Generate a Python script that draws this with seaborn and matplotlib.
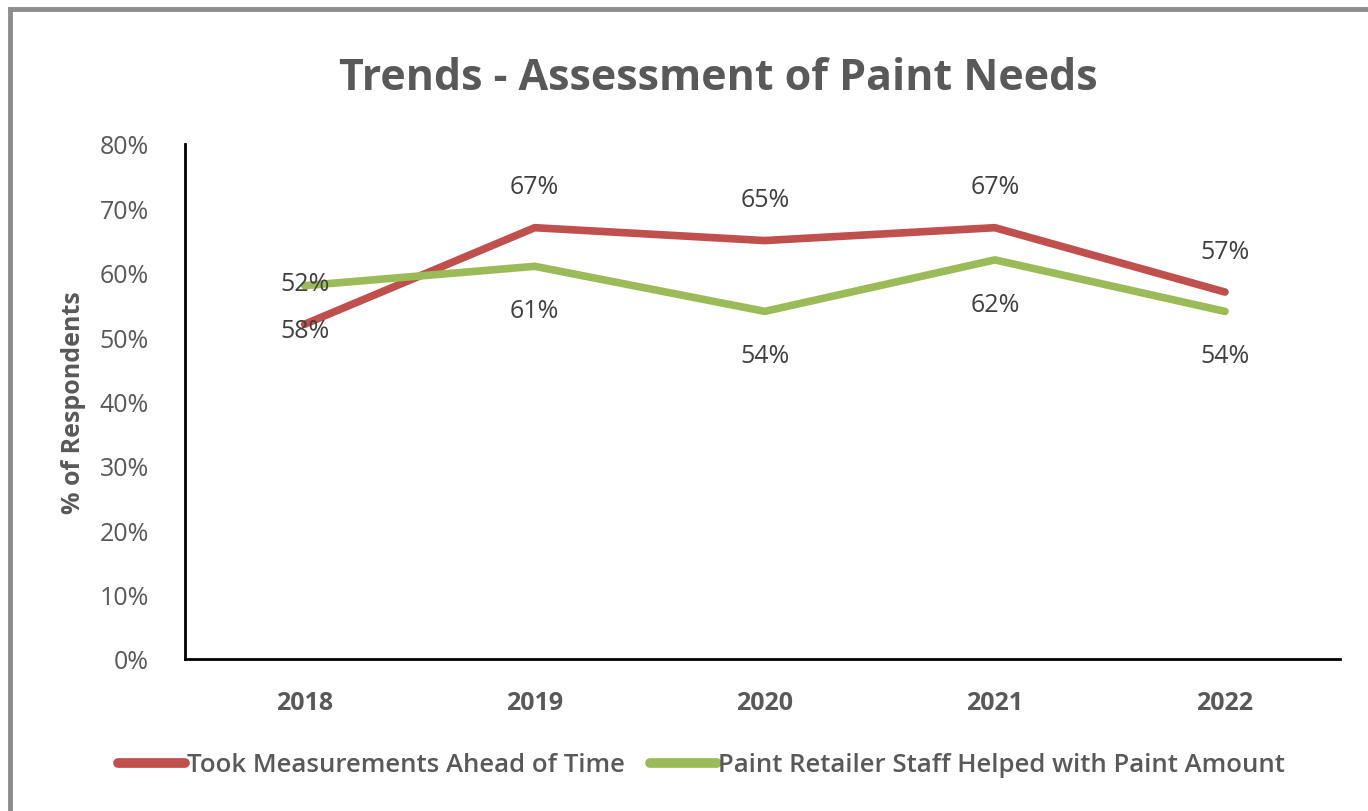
import matplotlib
matplotlib.use("Agg")
import matplotlib.pyplot as plt
import seaborn as sns
import pandas as pd
from matplotlib.patches import Rectangle

years = ["2018", "2019", "2020", "2021", "2022"]
took_measurements = [52, 67, 65, 67, 57]
staff_helped = [58, 61, 54, 62, 54]
series_names = ["Took Measurements Ahead of Time", "Paint Retailer Staff Helped with Paint Amount"]
y_ticks = [0, 10, 20, 30, 40, 50, 60, 70, 80]

sns.set_theme(style="white")
plt.rcParams["font.family"] = ["Open Sans", "DejaVu Sans"]

df = pd.DataFrame({
    "Year": years * 2,
    "Pos": list(range(len(years))) * 2,
    "Value": took_measurements + staff_helped,
    "Series": [series_names[0]] * len(years) + [series_names[1]] * len(years),
})

colors = {series_names[0]: "#C0504D", series_names[1]: "#9BBB59"}

fig = plt.figure(figsize=(13.68, 8.12), dpi=100)
ax = fig.add_axes([185 / 1368, 1 - 660 / 812, (1340 - 185) / 1368, (660 - 145) / 812])

sns.lineplot(data=df, x="Pos", y="Value", hue="Series", palette=colors, ax=ax,
             linewidth=5.5, solid_capstyle="round", legend=True, sort=False)

ax.set_xlim(-0.52, 4.5)
ax.set_ylim(0, 80)
ax.set_xticks(range(len(years)))
ax.set_xticklabels(years, fontsize=18, fontweight="bold", color="#595959")
ax.set_yticks(y_ticks)
ax.set_yticklabels([f"{t}%" for t in y_ticks], fontsize=18, color="#595959")
ax.tick_params(axis="y", length=0, pad=26)
ax.tick_params(axis="x", length=0, pad=22)
ax.set_xlabel("")
ax.set_ylabel("% of Respondents", fontsize=18, fontweight="bold", color="#595959", labelpad=10)

for side in ["top", "right"]:
    ax.spines[side].set_visible(False)
for side in ["left", "bottom"]:
    ax.spines[side].set_color("black")
    ax.spines[side].set_linewidth(2)

for i, v in enumerate(took_measurements):
    ax.annotate(f"{v}%", (i, v), xytext=(0, 29.5), textcoords="offset points",
                ha="center", va="center", fontsize=18, color="#404040")
for i, v in enumerate(staff_helped):
    ax.annotate(f"{v}%", (i, v), xytext=(0, -32), textcoords="offset points",
                ha="center", va="center", fontsize=18, color="#404040")

handles, labels = ax.get_legend_handles_labels()
ax.legend_.remove()
leg = fig.legend(handles, labels, loc="center", bbox_to_anchor=(0.513, 1 - 766 / 812),
                 ncol=2, frameon=False, fontsize=18.5, handlelength=2.6, columnspacing=1.0,
                 handletextpad=0.05)
for t in leg.get_texts():
    t.set_color("#595959")
    t.set_fontweight("semibold")
for h in leg.legend_handles:
    h.set_linewidth(7)

fig.suptitle("Trends - Assessment of Paint Needs", x=0.525, y=1 - 78 / 812, va="center",
             fontsize=31, fontweight="bold", color="#595959")

fig.patches.append(Rectangle((10 / 1368, -0.01), 1.02, 1 - 10 / 812 + 0.01,
                             transform=fig.transFigure, fill=False,
                             edgecolor="#8C8C8C", linewidth=3.5))

fig.savefig("out.png", dpi=100)
